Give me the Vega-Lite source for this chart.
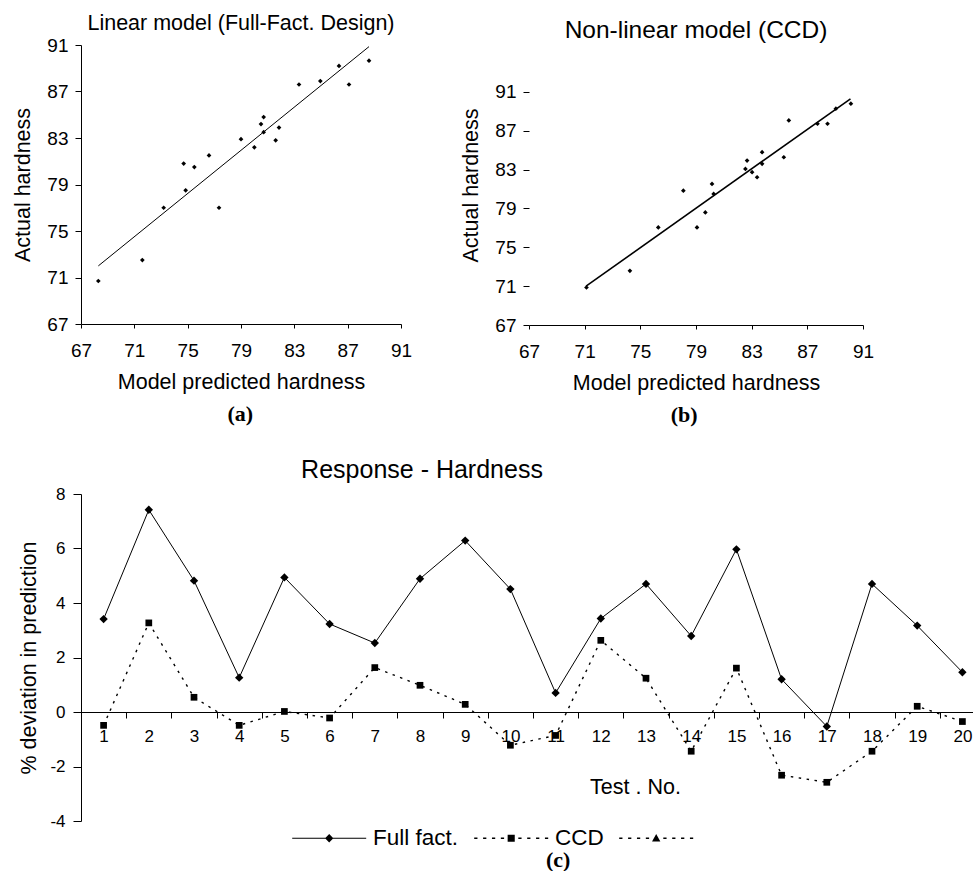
{
  "$schema": "https://vega.github.io/schema/vega-lite/v6.json",
  "background": "white",
  "padding": {"left": 12, "top": 12, "right": 0, "bottom": 0},
  "config": {
    "font": "Liberation Sans",
    "view": {"stroke": null},
    "axis": {"grid": false, "domainColor": "#000", "tickColor": "#000", "labelColor": "#000", "titleColor": "#000", "titleFontWeight": "normal", "labelFont": "Liberation Sans", "titleFont": "Liberation Sans", "labelFontSize": 19, "titleFontSize": 21.5, "labelFlush": false, "labelOverlap": false},
    "title": {"font": "Liberation Sans", "fontWeight": "normal", "color": "#000"}
  },
  "datasets": {
    "linpts": [
      {"pred": 68.3, "actual": 70.7}, {"pred": 71.6, "actual": 72.5}, {"pred": 73.2, "actual": 77.0}, {"pred": 74.7, "actual": 80.8},
      {"pred": 74.85, "actual": 78.5}, {"pred": 75.5, "actual": 80.5}, {"pred": 76.6, "actual": 81.5}, {"pred": 77.35, "actual": 77.0},
      {"pred": 79.0, "actual": 82.9}, {"pred": 80.0, "actual": 82.2}, {"pred": 80.5, "actual": 84.2}, {"pred": 80.7, "actual": 84.8},
      {"pred": 80.7, "actual": 83.5}, {"pred": 81.6, "actual": 82.8}, {"pred": 81.85, "actual": 83.9}, {"pred": 83.35, "actual": 87.6},
      {"pred": 84.95, "actual": 87.9}, {"pred": 86.35, "actual": 89.2}, {"pred": 87.1, "actual": 87.6}, {"pred": 88.6, "actual": 89.65}
    ],
    "linfit": [{"pred": 68.3, "actual": 72.0}, {"pred": 88.6, "actual": 90.86}],
    "ccdpts": [
      {"pred": 71.13, "actual": 70.86}, {"pred": 74.25, "actual": 72.58}, {"pred": 76.29, "actual": 77.05}, {"pred": 78.09, "actual": 80.84},
      {"pred": 79.07, "actual": 77.05}, {"pred": 79.67, "actual": 78.6}, {"pred": 80.15, "actual": 81.53}, {"pred": 80.27, "actual": 80.5},
      {"pred": 82.55, "actual": 83.08}, {"pred": 82.67, "actual": 83.94}, {"pred": 83.03, "actual": 82.74}, {"pred": 83.39, "actual": 82.22},
      {"pred": 83.75, "actual": 84.8}, {"pred": 83.75, "actual": 83.6}, {"pred": 85.31, "actual": 84.28}, {"pred": 85.67, "actual": 88.07},
      {"pred": 87.73, "actual": 87.73}, {"pred": 88.45, "actual": 87.73}, {"pred": 89.05, "actual": 89.28}, {"pred": 90.13, "actual": 89.8}
    ],
    "ccdfit": [{"pred": 71.1, "actual": 71.0}, {"pred": 90.1, "actual": 90.3}],
    "dev": [
      {"test": 1, "series": "Full fact.", "dev": 3.41}, {"test": 2, "series": "Full fact.", "dev": 7.42}, {"test": 3, "series": "Full fact.", "dev": 4.82},
      {"test": 4, "series": "Full fact.", "dev": 1.26}, {"test": 5, "series": "Full fact.", "dev": 4.94}, {"test": 6, "series": "Full fact.", "dev": 3.23},
      {"test": 7, "series": "Full fact.", "dev": 2.53}, {"test": 8, "series": "Full fact.", "dev": 4.89}, {"test": 9, "series": "Full fact.", "dev": 6.29},
      {"test": 10, "series": "Full fact.", "dev": 4.51}, {"test": 11, "series": "Full fact.", "dev": 0.70}, {"test": 12, "series": "Full fact.", "dev": 3.43},
      {"test": 13, "series": "Full fact.", "dev": 4.70}, {"test": 14, "series": "Full fact.", "dev": 2.79}, {"test": 15, "series": "Full fact.", "dev": 5.97},
      {"test": 16, "series": "Full fact.", "dev": 1.20}, {"test": 17, "series": "Full fact.", "dev": -0.53}, {"test": 18, "series": "Full fact.", "dev": 4.70},
      {"test": 19, "series": "Full fact.", "dev": 3.17}, {"test": 20, "series": "Full fact.", "dev": 1.46},
      {"test": 1, "series": "CCD", "dev": -0.49}, {"test": 2, "series": "CCD", "dev": 3.27}, {"test": 3, "series": "CCD", "dev": 0.54},
      {"test": 4, "series": "CCD", "dev": -0.49}, {"test": 5, "series": "CCD", "dev": 0.02}, {"test": 6, "series": "CCD", "dev": -0.22},
      {"test": 7, "series": "CCD", "dev": 1.63}, {"test": 8, "series": "CCD", "dev": 0.98}, {"test": 9, "series": "CCD", "dev": 0.28},
      {"test": 10, "series": "CCD", "dev": -1.22}, {"test": 11, "series": "CCD", "dev": -0.86}, {"test": 12, "series": "CCD", "dev": 2.63},
      {"test": 13, "series": "CCD", "dev": 1.24}, {"test": 14, "series": "CCD", "dev": -1.44}, {"test": 15, "series": "CCD", "dev": 1.61},
      {"test": 16, "series": "CCD", "dev": -2.32}, {"test": 17, "series": "CCD", "dev": -2.58}, {"test": 18, "series": "CCD", "dev": -1.44},
      {"test": 19, "series": "CCD", "dev": 0.21}, {"test": 20, "series": "CCD", "dev": -0.35}
    ]
  },
  "spacing": 32,
  "resolve": {"scale": {"shape": "independent"}, "legend": {"shape": "independent"}},
  "vconcat": [
    {
      "spacing": 48,
      "hconcat": [
        {
          "title": {"text": "(a)", "orient": "bottom", "anchor": "middle", "font": "Liberation Serif", "fontWeight": "bold", "fontSize": 22, "offset": 11, "dx": 28},
          "vconcat": [
            {
              "title": {"text": "Linear model (Full-Fact. Design)", "fontSize": 21.5, "offset": 2},
              "width": 320,
              "height": 279,
              "layer": [
                {
                  "data": {"name": "linfit"},
                  "mark": {"type": "line", "color": "#000", "strokeWidth": 1},
                  "encoding": {
                    "x": {"field": "pred", "type": "quantitative", "scale": {"domain": [67, 91], "nice": false, "zero": false},
                          "axis": {"values": [67, 71, 75, 79, 83, 87, 91], "title": "Model predicted hardness", "tickSize": 4, "labelPadding": 13, "titlePadding": 11}},
                    "y": {"field": "actual", "type": "quantitative", "scale": {"domain": [67, 91], "nice": false, "zero": false},
                          "axis": {"values": [67, 71, 75, 79, 83, 87, 91], "title": "Actual hardness", "tickSize": 6, "labelPadding": 7, "titlePadding": 12}}
                  }
                },
                {
                  "data": {"name": "linpts"},
                  "mark": {"type": "point", "shape": "diamond", "filled": true, "color": "#000", "opacity": 1, "size": 22},
                  "encoding": {
                    "x": {"field": "pred", "type": "quantitative"},
                    "y": {"field": "actual", "type": "quantitative"}
                  }
                }
              ]
            }
          ]
        },
        {
          "title": {"text": "(b)", "orient": "bottom", "anchor": "middle", "font": "Liberation Serif", "fontWeight": "bold", "fontSize": 22, "offset": 11, "dx": 17},
          "vconcat": [
            {
              "title": {"text": "Non-linear model (CCD)", "fontSize": 24.5, "offset": 2},
              "width": 334,
              "height": 280,
              "layer": [
                {
                  "data": {"name": "ccdfit"},
                  "mark": {"type": "line", "color": "#000", "strokeWidth": 1.6},
                  "encoding": {
                    "x": {"field": "pred", "type": "quantitative", "scale": {"domain": [67, 91], "nice": false, "zero": false},
                          "axis": {"values": [67, 71, 75, 79, 83, 87, 91], "title": "Model predicted hardness", "tickSize": 4, "labelPadding": 13, "titlePadding": 11}},
                    "y": {"field": "actual", "type": "quantitative", "scale": {"domain": [67, 95.84], "nice": false, "zero": false},
                          "axis": {"values": [67, 71, 75, 79, 83, 87, 91], "domain": false, "title": "Actual hardness", "tickSize": 6, "labelPadding": 7, "titlePadding": 12}}
                  }
                },
                {
                  "mark": {"type": "rule", "color": "#000", "strokeWidth": 1},
                  "encoding": {
                    "x": {"datum": 67, "type": "quantitative"},
                    "y": {"datum": 67, "type": "quantitative"},
                    "y2": {"datum": 91}
                  }
                },
                {
                  "data": {"name": "ccdpts"},
                  "mark": {"type": "point", "shape": "diamond", "filled": true, "color": "#000", "opacity": 1, "size": 22},
                  "encoding": {
                    "x": {"field": "pred", "type": "quantitative"},
                    "y": {"field": "actual", "type": "quantitative"}
                  }
                }
              ]
            }
          ]
        }
      ]
    },
    {
      "title": {"text": "(c)", "orient": "bottom", "anchor": "middle", "font": "Liberation Serif", "fontWeight": "bold", "fontSize": 22, "offset": 0, "dx": 56},
      "resolve": {"scale": {"shape": "independent"}, "legend": {"shape": "independent"}},
      "vconcat": [
        {
          "title": {"text": "Response - Hardness", "fontSize": 25, "offset": 2, "dx": -111},
          "width": 904,
          "height": 327,
          "data": {"name": "dev"},
          "encoding": {
            "x": {"field": "test", "type": "ordinal", "scale": {"paddingInner": 0, "paddingOuter": 0},
                  "axis": {"title": "Test . No.", "labelAngle": 0, "labelFontSize": 17, "tickBand": "extent", "tickSize": 6, "labelPadding": 10, "offset": -109, "titleX": 554, "titleY": 64, "titleAnchor": "start", "titleAlign": "center", "titleBaseline": "top"}},
            "y": {"field": "dev", "type": "quantitative", "scale": {"domain": [-4, 8], "nice": false, "zero": false},
                  "axis": {"values": [-4, -2, 0, 2, 4, 6, 8], "labelExpr": "replace(datum.label, '−', '-')", "title": "% deviation in prediction", "labelFontSize": 17, "tickSize": 8, "labelPadding": 8, "titlePadding": 9}}
          },
          "layer": [
            {
              "transform": [{"filter": "datum.series == 'Full fact.'"}],
              "mark": {"type": "line", "color": "#000", "strokeWidth": 1}
            },
            {
              "transform": [{"filter": "datum.series == 'CCD'"}],
              "mark": {"type": "line", "color": "#000", "strokeWidth": 1.4, "strokeDash": [2.5, 5.5]}
            },
            {
              "transform": [{"filter": "datum.series == 'Full fact.'"}],
              "mark": {"type": "point", "shape": "diamond", "filled": true, "color": "#000", "opacity": 1, "size": 70}
            },
            {
              "transform": [{"filter": "datum.series == 'CCD'"}],
              "mark": {"type": "point", "shape": "square", "filled": true, "color": "#000", "opacity": 1, "size": 45}
            },
            {
              "transform": [{"filter": "datum.dev > 100"}],
              "mark": {"type": "point", "filled": true, "color": "#000", "opacity": 1},
              "encoding": {
                "shape": {"field": "series", "type": "nominal",
                  "scale": {"domain": ["Full fact.", "CCD", "Series 3"],
                            "range": ["M-1,-0.034H4V0.034H-1ZM1.5,-0.28L1.78,0L1.5,0.28L1.22,0Z",
                                      "M-1,-0.045H-0.78V0.045H-1ZM-0.4,-0.045H-0.18V0.045H-0.4ZM0.2,-0.045H0.42V0.045H0.2ZM0.8,-0.045H1.02V0.045H0.8ZM1.98,-0.045H2.2V0.045H1.98ZM2.58,-0.045H2.8V0.045H2.58ZM3.18,-0.045H3.4V0.045H3.18ZM3.78,-0.045H4V0.045H3.78ZM1.26,-0.24H1.74V0.24H1.26Z",
                                      "M-1,-0.045H-0.78V0.045H-1ZM-0.4,-0.045H-0.18V0.045H-0.4ZM0.2,-0.045H0.42V0.045H0.2ZM0.8,-0.045H1.02V0.045H0.8ZM1.98,-0.045H2.2V0.045H1.98ZM2.58,-0.045H2.8V0.045H2.58ZM3.18,-0.045H3.4V0.045H3.18ZM3.78,-0.045H4V0.045H3.78ZM1.5,-0.28L1.78,0.22H1.22Z"]},
                  "legend": {
                    "orient": "none", "legendX": 210, "legendY": 328, "direction": "horizontal", "title": null,
                    "labelFontSize": 22.5, "labelFont": "Liberation Sans", "labelColor": "#000",
                    "symbolSize": 876, "labelOffset": 50, "columnPadding": 12,
                    "symbolFillColor": "#000", "symbolOpacity": 1,
                    "labelExpr": "datum.label == 'Series 3' ? '' : datum.label"
                  }
                }
              }
            }
          ]
        }
      ]
    }
  ]
}
